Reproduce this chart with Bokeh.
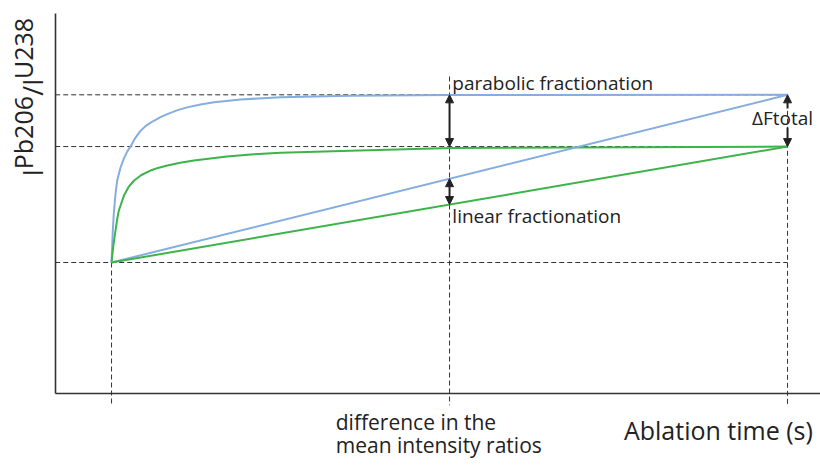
import math
from bokeh.plotting import figure
from bokeh.models import Range1d, Label, Arrow, NormalHead, LinearAxis
from bokeh.embed import file_html
from bokeh.resources import INLINE

# ---- data (arbitrary units) ----
t_start = 1.0
t_mid = 7.0
t_end = 13.0
ratio_start = 1.0
ratio_green_end = 1.885
ratio_blue_end = 2.28
axis_t_max = 13.585
axis_r_max = 2.9

# parabolic (blue) curve points
blue_t = [1.0, 1.02, 1.04, 1.07, 1.10, 1.16, 1.22, 1.28, 1.34, 1.42, 1.51, 1.62, 1.75, 1.87, 1.99, 2.16, 2.34, 2.58, 2.82, 3.29, 4.0, 5.24, 7.0, 13.0]
blue_r = [1.0, 1.22, 1.372, 1.52, 1.626, 1.725, 1.795, 1.848, 1.888, 1.950, 2.003, 2.047, 2.082, 2.110, 2.133, 2.161, 2.184, 2.206, 2.223, 2.244, 2.262, 2.272, 2.278, 2.28]
# parabolic (green) curve points
green_t = [1.0, 1.03, 1.07, 1.10, 1.13, 1.22, 1.30, 1.40, 1.53, 1.69, 1.84, 1.99, 2.22, 2.46, 3.05, 3.47, 4.0, 5.24, 7.03, 13.0]
green_r = [1.0, 1.12, 1.244, 1.33, 1.397, 1.511, 1.575, 1.626, 1.668, 1.702, 1.724, 1.740, 1.762, 1.779, 1.809, 1.824, 1.837, 1.853, 1.874, 1.885]
# linear fractionation lines
blue_lin_t = [t_start, t_end]
blue_lin_r = [ratio_start, ratio_blue_end]
green_lin_t = [t_start, t_end]
green_lin_r = [ratio_start, ratio_green_end]

BLUE = "#85ade0"
GREEN = "#3cb44a"
DARK = "#333333"
INK = "#222222"
FONT = "Open Sans"

p = figure(width=820, height=465, output_backend="svg", toolbar_location=None,
           x_range=Range1d(-0.971, 13.585), y_range=Range1d(-0.5496, 3.0),
           x_axis_location=None, y_axis_location=None, min_border=0)
p.outline_line_color = None
p.grid.visible = False
p.background_fill_color = "white"

xax = LinearAxis(fixed_location=0, bounds=(0, axis_t_max))
yax = LinearAxis(fixed_location=0, bounds=(0, axis_r_max))
for ax in (xax, yax):
    ax.ticker = []
    ax.major_tick_line_color = None
    ax.minor_tick_line_color = None
    ax.major_tick_out = 0
    ax.major_tick_in = 0
    ax.minor_tick_out = 0
    ax.major_label_standoff = 0
    ax.axis_label_standoff = 0
    ax.major_label_text_font_size = "0px"
    ax.axis_line_color = DARK
    ax.axis_line_width = 1.6
p.add_layout(xax, "below")
p.add_layout(yax, "left")

# dashed guide lines
dash = dict(line_color=DARK, line_width=1, line_dash="5 3")
for r in (ratio_start, ratio_green_end, ratio_blue_end):
    p.line([0, t_end], [r, r], **dash)
p.line([t_start, t_start], [ratio_start, -0.09], **dash)
p.line([t_mid, t_mid], [2.42, -0.09], **dash)
p.line([t_end, t_end], [ratio_blue_end, -0.09], **dash)

# curves
p.line(blue_t, blue_r, line_color=BLUE, line_width=2)
p.line(green_t, green_r, line_color=GREEN, line_width=2)
p.line(blue_lin_t, blue_lin_r, line_color=BLUE, line_width=2)
p.line(green_lin_t, green_lin_r, line_color=GREEN, line_width=2)

def head():
    return NormalHead(size=8, fill_color=INK, line_color=INK, line_width=1)

# parabolic difference arrow
p.add_layout(Arrow(x_start=t_mid, y_start=ratio_green_end, x_end=t_mid, y_end=ratio_blue_end,
                   start=head(), end=head(), line_color=INK, line_width=2))
# linear difference arrow
frac = (t_mid - t_start) / (t_end - t_start)
b_mid = ratio_start + frac * (ratio_blue_end - ratio_start)
g_mid = ratio_start + frac * (ratio_green_end - ratio_start)
p.add_layout(Arrow(x_start=t_mid, y_start=g_mid, x_end=t_mid, y_end=b_mid,
                   start=head(), end=head(), line_color=INK, line_width=2))
# total arrow (split by text)
mid_total = 2.10
p.add_layout(Arrow(x_start=t_end, y_start=mid_total + 0.075, x_end=t_end, y_end=ratio_blue_end,
                   end=head(), line_color=INK, line_width=2))
p.add_layout(Arrow(x_start=t_end, y_start=mid_total - 0.07, x_end=t_end, y_end=ratio_green_end,
                   end=head(), line_color=INK, line_width=2))

txt = dict(text_font=FONT, text_color=INK, text_baseline="bottom")
p.add_layout(Label(x=t_mid + 0.05, y=2.274, text="parabolic fractionation", text_font_size="19px", **txt))
p.add_layout(Label(x=t_mid + 0.05, y=1.255, text="linear fractionation", text_font_size="19px", **txt))
p.add_layout(Label(x=12.91, y=mid_total, text="ΔFtotal", text_align="center",
                   text_font_size="19px", text_font=FONT, text_color=INK, text_baseline="middle"))
p.add_layout(Label(x=4.98, y=-0.325, text="difference in the", text_font_size="21px", **txt))
p.add_layout(Label(x=4.98, y=-0.501, text="mean intensity ratios", text_font_size="21px", **txt))
p.add_layout(Label(x=13.45, y=-0.41, text="Ablation time (s)", text_align="right",
                   text_font_size="25px", **txt))

# y-axis label: I^Pb206 / I^U238 (rotated)
ang = math.pi / 2
ylab = dict(angle=ang, **txt)
p.add_layout(Label(x=-0.08, y=1.656, text="I", text_font_size="27px", **ylab))
p.add_layout(Label(x=-0.266, y=1.712, text="Pb206", text_font_size="25px", **ylab))
p.add_layout(Label(x=-0.08, y=2.272, text="/I", text_font_size="27px", **ylab))
p.add_layout(Label(x=-0.266, y=2.401, text="U238", text_font_size="25px", **ylab))

open("out.html", "w").write(file_html(p, INLINE))
